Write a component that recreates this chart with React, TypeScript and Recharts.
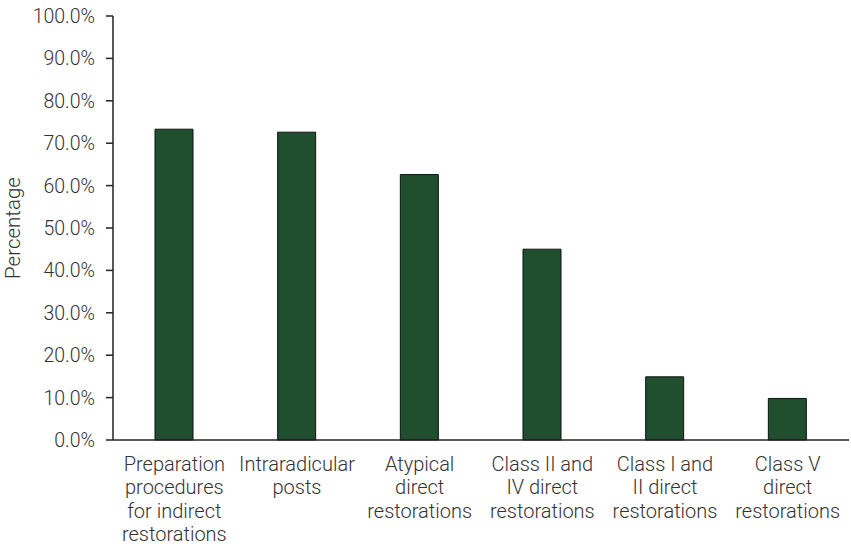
import { Bar, BarChart, XAxis, YAxis } from "recharts";

// Share of procedures per category, in percent
const CATEGORIES: string[] = [
  "Preparation\nprocedures\nfor indirect\nrestorations",
  "Intraradicular\nposts",
  "Atypical\ndirect\nrestorations",
  "Class II and\nIV direct\nrestorations",
  "Class I and\nII direct\nrestorations",
  "Class V\ndirect\nrestorations",
];
const PERCENTAGES: number[] = [73.3, 72.6, 62.6, 45.0, 14.9, 9.8];
const Y_TICKS: number[] = [0, 10, 20, 30, 40, 50, 60, 70, 80, 90, 100];

const FONT = "Roboto, 'Noto Sans', sans-serif";
const TEXT_COLOR = "#333333";
const AXIS_COLOR = "#222222";

const chartData = CATEGORIES.map((name, i) => ({ name, value: PERCENTAGES[i] }));

function CategoryTick({ x, y, payload }: { x?: number; y?: number; payload?: { value: string } }) {
  const lines = (payload?.value ?? "").split("\n");
  return (
    <text
      x={x}
      y={(y ?? 0) + 23}
      textAnchor="middle"
      fill={TEXT_COLOR}
      fontFamily={FONT}
      fontWeight={300}
      fontSize={20}
    >
      {lines.map((line, i) => (
        <tspan key={i} x={x} dy={i === 0 ? 0 : 23.3}>
          {line}
        </tspan>
      ))}
    </text>
  );
}

function AxisTitle({ viewBox }: { viewBox?: { x: number; y: number; width: number; height: number } }) {
  const cy = (viewBox?.y ?? 0) + (viewBox?.height ?? 0) / 2;
  return (
    <text
      x={20}
      y={cy}
      transform={`rotate(-90, 20, ${cy})`}
      textAnchor="middle"
      fill={TEXT_COLOR}
      fontFamily={FONT}
      fontWeight={300}
      fontSize={20.5}
    >
      Percentage
    </text>
  );
}

export default function App() {
  return (
    <div style={{ position: "absolute", left: 0, top: 0, background: "#ffffff" }}>
      <BarChart
        width={851}
        height={546}
        data={chartData}
        margin={{ top: 16, right: 2, bottom: 0, left: 0 }}
      >
        <XAxis
          dataKey="name"
          interval={0}
          tickLine={false}
          tick={<CategoryTick />}
          axisLine={{ stroke: AXIS_COLOR, strokeWidth: 1.5 }}
          height={106}
        />
        <YAxis
          width={113}
          domain={[0, 100]}
          ticks={Y_TICKS}
          interval={0}
          tickFormatter={(v: number) => `${v.toFixed(1)}%`}
          tickSize={7}
          tickMargin={11}
          axisLine={{ stroke: AXIS_COLOR, strokeWidth: 1.5 }}
          tickLine={{ stroke: AXIS_COLOR, strokeWidth: 1.5 }}
          tick={{ fill: TEXT_COLOR, fontFamily: FONT, fontWeight: 300, fontSize: 19.5 }}
          label={<AxisTitle />}
        />
        <Bar
          dataKey="value"
          fill="#1f4f2e"
          stroke="#111111"
          strokeWidth={1}
          barSize={38}
          isAnimationActive={false}
        />
      </BarChart>
    </div>
  );
}
